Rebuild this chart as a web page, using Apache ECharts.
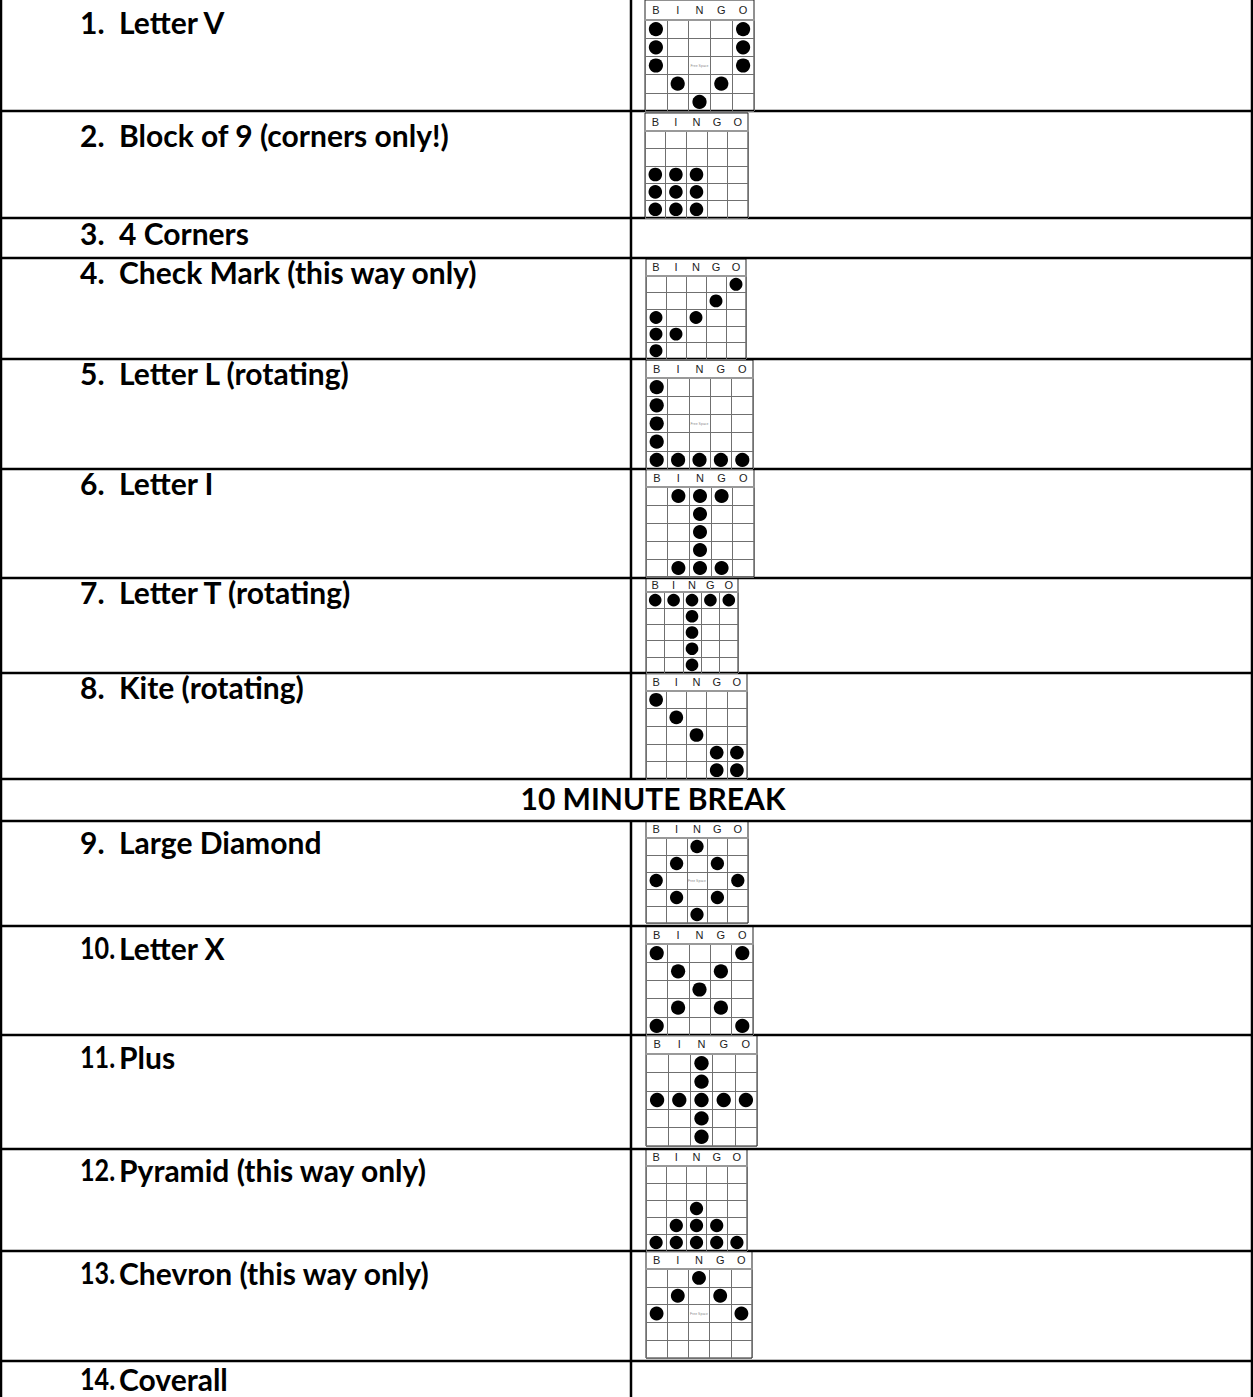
<!DOCTYPE html>
<html>
<head>
<meta charset="utf-8">
<script src="https://cdn.jsdelivr.net/npm/echarts@6/dist/echarts.min.js"></script>
<style>
html,body{margin:0;padding:0;background:#fff;}
#chart{width:1253px;height:1397px;}
</style>
</head>
<body>
<div id="chart"></div>
<script>
// ---- data ----
const itemNumbers = ['1.','2.','3.','4.','5.','6.','7.','8.',null,'9.','10.','11.','12.','13.','14.'];
const itemLabels = ['Letter V','Block of 9 (corners only!)','4 Corners','Check Mark (this way only)','Letter L (rotating)','Letter I','Letter T (rotating)','Kite (rotating)','10 MINUTE BREAK','Large Diamond','Letter X','Plus','Pyramid (this way only)','Chevron (this way only)','Coverall'];
const bingoLetters = ['B','I','N','G','O'];
const bingoRows = [0,1,2,3,4];
const patV        = ['X...X','X...X','X...X','.X.X.','..X..'];
const patBlock9   = ['.....','.....','XXX..','XXX..','XXX..'];
const patCheck    = ['....X','...X.','X.X..','XX...','X....'];
const patL        = ['X....','X....','X....','X....','XXXXX'];
const patI        = ['.XXX.','..X..','..X..','..X..','.XXX.'];
const patT        = ['XXXXX','..X..','..X..','..X..','..X..'];
const patKite     = ['X....','.X...','..X..','...XX','...XX'];
const patDiamond  = ['..X..','.X.X.','X...X','.X.X.','..X..'];
const patX        = ['X...X','.X.X.','..X..','.X.X.','X...X'];
const patPlus     = ['..X..','..X..','XXXXX','..X..','..X..'];
const patPyramid  = ['.....','.....','..X..','.XXX.','XXXXX'];
const patChevron  = ['..X..','.X.X.','X...X','.....','.....'];
const rowPatterns = [patV,patBlock9,null,patCheck,patL,patI,patT,patKite,null,patDiamond,patX,patPlus,patPyramid,patChevron,null];
const freeSpace   = [true,false,false,false,true,false,false,false,false,true,false,false,false,true,false];

// ---- layout ----
const W = 1253, H = 1397;
const rowEdges = [0,111,218,258,359,469,578,673,779,821,926,1035,1149,1251,1361,1397];
const textOffsets = [22,24,15,14,14,14,14,14,19,21,22,22,21,22,18];
const dividerX = 631;
// [left, top, right, headerBottom, bottom]
const cardBoxes = [
  [645,0,754,20,111],[645,113,748,131,218],null,[646,259,746,276,359],[646,360,753,378,469],
  [646,469,754,487,577],[646,578,738,592,673],[646,673,747,691,779],null,[646,821,748,838,923],
  [646,926,753,944,1035],[646,1035,757,1054,1146],[646,1149,747,1166,1251],[646,1251,752,1269,1358],null
];
const breakRow = 8;

const chart = echarts.init(document.getElementById('chart'), null, {renderer:'svg'});
const grids=[], xAxes=[], yAxes=[], series=[], graphics=[];
let gi = 0;
rowPatterns.forEach((pat, i) => {
  if (!pat) return;
  const [x0,y0,x1,hb,y1] = cardBoxes[i];
  const cw = (x1-x0)/5, ch = (y1-hb)/5;
  const dot = Math.min(cw, ch) * 0.78;
  grids.push({left:x0, top:hb, width:x1-x0, height:y1-hb, show:true, borderColor:'#222', borderWidth:1, containLabel:false});
  xAxes.push({gridIndex:gi, type:'category', data:bingoLetters, position:'top',
    axisLine:{show:true, lineStyle:{color:'#999', width:2}}, axisTick:{show:false},
    axisLabel:{show:true, margin:(hb-y0)/2-5, fontSize:11, color:'#222', fontFamily:'Liberation Sans'},
    splitLine:{show:true, lineStyle:{color:'#707070', width:1}}});
  yAxes.push({gridIndex:gi, type:'category', data:bingoRows, inverse:true,
    axisLine:{show:false}, axisTick:{show:false}, axisLabel:{show:false},
    splitLine:{show:true, lineStyle:{color:'#707070', width:1}}});
  const dots = [];
  pat.forEach((rowStr, r) => { for (let c=0;c<5;c++) if (rowStr[c]==='X') dots.push([bingoLetters[c], r]); });
  series.push({type:'scatter', xAxisIndex:gi, yAxisIndex:gi, data:dots, symbol:'circle', symbolSize:dot,
    itemStyle:{color:'#000', opacity:1}, silent:true, animation:false});
  if (freeSpace[i]) {
    series.push({type:'scatter', xAxisIndex:gi, yAxisIndex:gi, data:[['N',2]], symbolSize:0,
      label:{show:true, position:'inside', formatter:'Free Space', fontSize:3.5, color:'#666'}, silent:true, animation:false});
  }
  graphics.push({type:'rect', shape:{x:x0, y:y0, width:x1-x0, height:hb-y0}, style:{fill:'none', stroke:'#222', lineWidth:1}});
  gi++;
});

// table lines
const lw = 2.5;
rowEdges.forEach((y, k) => {
  if (k===0 || k===rowEdges.length-1) return;
  graphics.push({type:'line', shape:{x1:0, y1:y, x2:W, y2:y}, style:{stroke:'#000', lineWidth:lw}});
});
graphics.push({type:'line', shape:{x1:1, y1:0, x2:1, y2:H}, style:{stroke:'#000', lineWidth:lw}});
graphics.push({type:'line', shape:{x1:W-1, y1:0, x2:W-1, y2:H}, style:{stroke:'#000', lineWidth:lw}});
for (let k=0;k<rowEdges.length-1;k++) {
  if (k===breakRow) continue;
  graphics.push({type:'line', shape:{x1:dividerX, y1:rowEdges[k], x2:dividerX, y2:rowEdges[k+1]}, style:{stroke:'#000', lineWidth:lw}});
}
// texts
const font = 'bold 30px Lato';
itemLabels.forEach((lab, i) => {
  const cy = rowEdges[i] + textOffsets[i];
  if (i===breakRow) {
    graphics.push({type:'text', style:{x:653, y:cy, text:lab, font:font, fill:'#000', textAlign:'center', textVerticalAlign:'middle'}});
    return;
  }
  const num = itemNumbers[i];
  graphics.push({type:'text', x:80, y:cy, scaleX: num.length > 2 ? 0.84 : 1,
    style:{x:0, y:0, text:num, font:font, fill:'#000', textVerticalAlign:'middle'}});
  graphics.push({type:'text', style:{x:119, y:cy, text:lab, font:font, fill:'#000', textVerticalAlign:'middle'}});
});

chart.setOption({
  animation:false,
  grid:grids, xAxis:xAxes, yAxis:yAxes, series:series,
  graphic:{elements:graphics}
});
</script>
</body>
</html>
